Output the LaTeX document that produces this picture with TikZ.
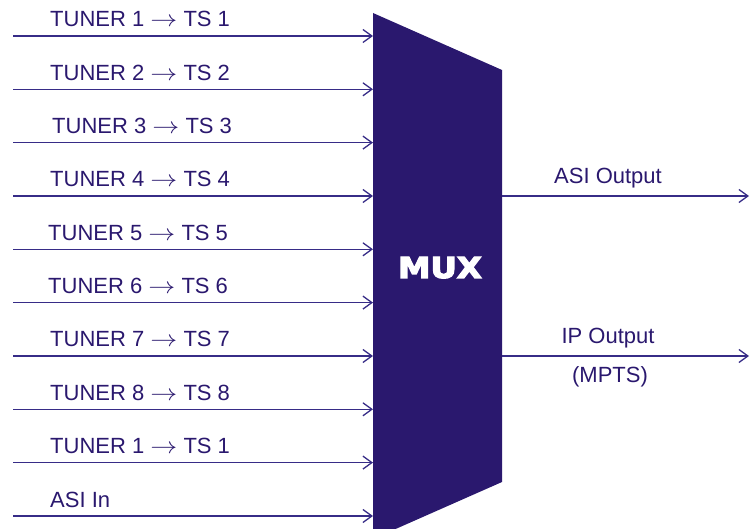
\documentclass[tikz,border=0pt]{standalone}
\usepackage{fontspec}
\usepackage{graphicx}
\setmainfont{Liberation Sans}
\newfontfamily\muxfont{DejaVu Sans}
\usetikzlibrary{arrows.meta}
\definecolor{muxblue}{RGB}{42,24,110}
\definecolor{wireblue}{RGB}{55,44,135}
\newcommand{\tsarrow}{\scalebox{1.3}[1.1]{\(\rightarrow\)}}
\newcommand{\heavytext}[1]{\special{pdf:literal direct 2 Tr 1.2 w}#1\special{pdf:literal direct 0 Tr}}
\begin{document}
\begin{tikzpicture}[x=1pt, y=-1pt,
  every node/.style={text=muxblue, font=\fontsize{22}{26}\selectfont, inner sep=0pt},
  wire/.style={draw=wireblue, line width=1.3pt, -{Straight Barb[length=9pt,width=13pt,line width=1.3pt]}},
  inlabel/.style={anchor=base west},
  outlabel/.style={anchor=base}
]
\useasboundingbox (0,0) rectangle (750,529);
\fill[muxblue] (373,13) -- (502,70) -- (502,482) -- (395.6,529) -- (373,529) -- cycle;
\node[anchor=base, text=white, font=\muxfont\fontsize{29}{34}\selectfont\bfseries] (mux) at (440,278) {\scalebox{1.12}[1]{\heavytext{MUX}}};
\coordinate (muxin) at (373,0);
\coordinate (muxout) at (502,0);
\coordinate (in1) at (13,36);
\coordinate (in2) at (13,89.3);
\coordinate (in3) at (13,142.6);
\coordinate (in4) at (13,196);
\coordinate (in5) at (13,249.3);
\coordinate (in6) at (13,302.6);
\coordinate (in7) at (13,356);
\coordinate (in8) at (13,409.3);
\coordinate (in9) at (13,462.6);
\coordinate (in10) at (13,516);
\node[inlabel] (tuner1) at (50,27) {TUNER 1 \tsarrow{} TS 1};
\node[inlabel] (tuner2) at (50,80.3) {TUNER 2 \tsarrow{} TS 2};
\node[inlabel] (tuner3) at (52,133.6) {TUNER 3 \tsarrow{} TS 3};
\node[inlabel] (tuner4) at (50,187) {TUNER 4 \tsarrow{} TS 4};
\node[inlabel] (tuner5) at (48,240.3) {TUNER 5 \tsarrow{} TS 5};
\node[inlabel] (tuner6) at (48,293.6) {TUNER 6 \tsarrow{} TS 6};
\node[inlabel] (tuner7) at (50,347) {TUNER 7 \tsarrow{} TS 7};
\node[inlabel] (tuner8) at (50,400.3) {TUNER 8 \tsarrow{} TS 8};
\node[inlabel] (tuner9) at (50,453.6) {TUNER 1 \tsarrow{} TS 1};
\node[inlabel] (asiin) at (50,507) {ASI In};
\draw[wire] (in1) -- (in1 -| muxin);
\draw[wire] (in2) -- (in2 -| muxin);
\draw[wire] (in3) -- (in3 -| muxin);
\draw[wire] (in4) -- (in4 -| muxin);
\draw[wire] (in5) -- (in5 -| muxin);
\draw[wire] (in6) -- (in6 -| muxin);
\draw[wire] (in7) -- (in7 -| muxin);
\draw[wire] (in8) -- (in8 -| muxin);
\draw[wire] (in9) -- (in9 -| muxin);
\draw[wire] (in10) -- (in10 -| muxin);
% outputs
\coordinate (asiend) at (749,196);
\coordinate (ipend) at (749,356);
\node[outlabel] (asiout) at (608,184) {ASI Output};
\node[outlabel] (ipout) at (608,344) {IP Output};
\node[outlabel] (mpts) at (610,383) {(MPTS)};
\draw[wire] (asiend -| muxout) -- (asiend);
\draw[wire] (ipend -| muxout) -- (ipend);
\end{tikzpicture}
\end{document}
